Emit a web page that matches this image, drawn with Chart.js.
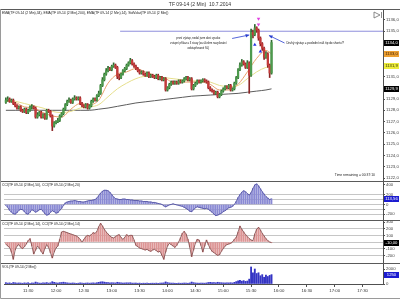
<!DOCTYPE html>
<html>
<head>
<meta charset="utf-8">
<script src="https://cdn.jsdelivr.net/npm/chart.js@4.4.1/dist/chart.umd.min.js"></script>
<style>
  html, body { margin: 0; padding: 0; background: #fff; }
  #wrap { width: 400px; height: 300px; }
</style>
</head>
<body>
<div id="wrap"><canvas id="tfChart" width="400" height="300"></canvas></div>
<script>
// ===== DATA =====
const FONT = "'Liberation Sans', Arial, sans-serif";

// time axis (2 minute bars)
const firstBar = '11:06';
const barMinutes = 2;
const axisStart = '11:04';
const axisEnd = '17:52';
const timeTicks = ['11:30', '12:00', '12:30', '13:00', '13:30', '14:00', '14:30',
  '15:00', '15:30', '16:00', '16:30', '17:00', '17:30'];

// price pane
const priceTicks = [1122, 1123, 1124, 1125, 1126, 1127, 1128, 1129, 1130, 1131, 1132, 1133, 1134, 1135, 1136];
const priceMin = 1121.74;
const priceMax = 1136.97;

const opens = [
  1128.7, 1128.9, 1129.0, 1128.8, 1128.9, 1128.6, 1128.4, 1128.2, 1128.3, 1128.0,
  1127.9, 1128.1, 1127.8, 1128.0, 1128.3, 1128.3, 1128.2, 1127.4, 1127.6, 1127.8,
  1127.4, 1127.6, 1127.3, 1128.0, 1127.9, 1127.5, 1126.6, 1126.9, 1127.0, 1127.1,
  1127.5, 1127.7, 1128.1, 1128.5, 1128.8, 1128.9, 1128.7, 1129.0, 1129.1, 1129.0,
  1129.1, 1128.6, 1128.4, 1128.3, 1128.5, 1128.2, 1128.4, 1128.8, 1129.0, 1128.9,
  1129.3, 1129.5, 1130.2, 1130.7, 1131.2, 1131.5, 1131.7, 1131.6, 1131.9, 1132.0,
  1131.8, 1131.0, 1130.9, 1131.2, 1131.5, 1131.7, 1132.0, 1132.2, 1132.4, 1132.1,
  1131.9, 1131.7, 1131.5, 1131.3, 1131.4, 1131.2, 1131.1, 1131.3, 1131.0, 1131.1,
  1131.0, 1130.9, 1131.1, 1130.8, 1130.9, 1130.7, 1130.8, 1129.8, 1130.0, 1130.3,
  1130.5, 1130.4, 1130.5, 1130.4, 1130.6, 1130.5, 1130.6, 1130.8, 1130.9, 1130.7,
  1130.8, 1129.9, 1130.2, 1130.4, 1130.6, 1130.5, 1130.6, 1130.7, 1130.6, 1130.5,
  1130.0, 1129.8, 1129.7, 1129.5, 1129.6, 1129.2, 1129.4, 1129.7, 1129.9, 1130.1,
  1130.0, 1130.2, 1129.8, 1129.9, 1130.4, 1130.9, 1131.6, 1132.0, 1132.3, 1132.1,
  1131.8, 1132.2, 1131.1, 1134.9, 1134.7, 1135.3, 1135.1, 1134.4, 1133.9, 1133.5,
  1132.7, 1133.0, 1132.0, 1131.3
];
const highs = [
  1129.1, 1129.2, 1129.1, 1129.0, 1129.0, 1128.7, 1128.5, 1128.4, 1128.4, 1128.1,
  1128.2, 1128.2, 1128.1, 1128.4, 1128.5, 1128.4, 1128.3, 1127.8, 1127.9, 1127.9,
  1127.7, 1127.7, 1128.1, 1128.1, 1128.0, 1127.6, 1127.0, 1127.1, 1127.3, 1127.6,
  1127.8, 1128.2, 1128.6, 1128.9, 1129.1, 1129.0, 1129.1, 1129.3, 1129.2, 1129.2,
  1129.2, 1128.7, 1128.5, 1128.6, 1128.6, 1128.5, 1128.9, 1129.1, 1129.1, 1129.4,
  1129.7, 1130.3, 1130.9, 1131.3, 1131.7, 1131.9, 1131.8, 1132.0, 1132.2, 1132.1,
  1131.9, 1131.2, 1131.3, 1131.6, 1131.8, 1132.1, 1132.3, 1132.6, 1132.5, 1132.2,
  1132.0, 1131.8, 1131.6, 1131.5, 1131.5, 1131.3, 1131.4, 1131.4, 1131.2, 1131.2,
  1131.1, 1131.2, 1131.2, 1131.0, 1131.0, 1130.9, 1130.9, 1130.1, 1130.4, 1130.6,
  1130.6, 1130.6, 1130.6, 1130.7, 1130.7, 1130.7, 1130.9, 1131.0, 1131.0, 1130.9,
  1130.9, 1130.3, 1130.5, 1130.7, 1130.7, 1130.7, 1130.8, 1130.8, 1130.7, 1130.6,
  1130.1, 1129.9, 1129.8, 1129.7, 1129.7, 1129.5, 1129.8, 1130.0, 1130.2, 1130.2,
  1130.3, 1130.3, 1130.0, 1130.5, 1131.0, 1131.7, 1132.2, 1132.5, 1132.4, 1132.2,
  1132.4, 1132.3, 1135.2, 1135.1, 1135.6, 1135.4, 1135.2, 1134.5, 1134.0, 1133.6,
  1133.2, 1133.1, 1132.1, 1134.2
];
const lows = [
  1128.6, 1128.8, 1128.7, 1128.7, 1128.5, 1128.3, 1128.1, 1128.1, 1127.9, 1127.8,
  1127.8, 1127.7, 1127.7, 1127.9, 1128.1, 1128.1, 1127.3, 1127.3, 1127.5, 1127.3,
  1127.3, 1127.2, 1127.2, 1127.8, 1127.4, 1126.2, 1126.5, 1126.8, 1126.9, 1127.0,
  1127.4, 1127.6, 1128.0, 1128.4, 1128.7, 1128.6, 1128.6, 1128.9, 1128.9, 1128.9,
  1128.5, 1128.3, 1128.2, 1128.2, 1128.1, 1128.1, 1128.3, 1128.7, 1128.8, 1128.8,
  1129.2, 1129.4, 1130.1, 1130.6, 1131.1, 1131.4, 1131.5, 1131.5, 1131.8, 1131.7,
  1130.8, 1130.7, 1130.8, 1131.1, 1131.4, 1131.6, 1131.9, 1132.1, 1132.0, 1131.8,
  1131.6, 1131.4, 1131.2, 1131.2, 1131.1, 1131.0, 1131.0, 1130.9, 1130.9, 1130.9,
  1130.8, 1130.8, 1130.7, 1130.7, 1130.6, 1130.6, 1129.7, 1129.7, 1129.9, 1130.2,
  1130.3, 1130.3, 1130.3, 1130.3, 1130.4, 1130.4, 1130.5, 1130.7, 1130.6, 1130.6,
  1129.8, 1129.8, 1130.1, 1130.3, 1130.4, 1130.4, 1130.5, 1130.5, 1130.4, 1129.9,
  1129.7, 1129.6, 1129.4, 1129.4, 1129.1, 1129.1, 1129.3, 1129.6, 1129.8, 1129.9,
  1129.9, 1129.7, 1129.7, 1129.8, 1130.3, 1130.8, 1131.5, 1131.9, 1132.0, 1131.7,
  1131.7, 1129.5, 1131.0, 1134.4, 1134.6, 1134.9, 1134.2, 1133.7, 1133.3, 1132.5,
  1132.6, 1131.8, 1130.9, 1131.2
];
const closes = [
  1128.9, 1129.0, 1128.8, 1128.9, 1128.6, 1128.4, 1128.2, 1128.3, 1128.0, 1127.9,
  1128.1, 1127.8, 1128.0, 1128.3, 1128.3, 1128.2, 1127.4, 1127.6, 1127.8, 1127.4,
  1127.6, 1127.3, 1128.0, 1127.9, 1127.5, 1126.6, 1126.9, 1127.0, 1127.1, 1127.5,
  1127.7, 1128.1, 1128.5, 1128.8, 1128.9, 1128.7, 1129.0, 1129.1, 1129.0, 1129.1,
  1128.6, 1128.4, 1128.3, 1128.5, 1128.2, 1128.4, 1128.8, 1129.0, 1128.9, 1129.3,
  1129.5, 1130.2, 1130.7, 1131.2, 1131.5, 1131.7, 1131.6, 1131.9, 1132.0, 1131.8,
  1131.0, 1130.9, 1131.2, 1131.5, 1131.7, 1132.0, 1132.2, 1132.4, 1132.1, 1131.9,
  1131.7, 1131.5, 1131.3, 1131.4, 1131.2, 1131.1, 1131.3, 1131.0, 1131.1, 1131.0,
  1130.9, 1131.1, 1130.8, 1130.9, 1130.7, 1130.8, 1129.8, 1130.0, 1130.3, 1130.5,
  1130.4, 1130.5, 1130.4, 1130.6, 1130.5, 1130.6, 1130.8, 1130.9, 1130.7, 1130.8,
  1129.9, 1130.2, 1130.4, 1130.6, 1130.5, 1130.6, 1130.7, 1130.6, 1130.5, 1130.0,
  1129.8, 1129.7, 1129.5, 1129.6, 1129.2, 1129.4, 1129.7, 1129.9, 1130.1, 1130.0,
  1130.2, 1129.8, 1129.9, 1130.4, 1130.9, 1131.6, 1132.0, 1132.3, 1132.1, 1131.8,
  1132.2, 1131.1, 1134.9, 1134.7, 1135.3, 1135.1, 1134.4, 1133.9, 1133.5, 1132.7,
  1133.0, 1132.0, 1131.3, 1134.0
];

// moving averages, read every 5th bar
const emaBars = [0, 5, 10, 15, 20, 25, 30, 35, 40, 45, 50, 55, 60, 65, 70, 75, 80, 85, 90, 95,
  100, 105, 110, 115, 120, 125, 130, 135, 140, 143];
const ema14 = [1128.8, 1128.7, 1128.3, 1128.2, 1127.8, 1127.5, 1127.4, 1128.1, 1128.6, 1128.5,
  1128.9, 1130.4, 1131.2, 1131.4, 1131.7, 1131.4, 1131.1, 1130.9, 1130.5, 1130.5,
  1130.5, 1130.5, 1130.3, 1129.8, 1129.8, 1130.3, 1131.4, 1132.6, 1133.3, 1133.0];
const ema34 = [1128.9, 1128.8, 1128.6, 1128.4, 1128.2, 1127.9, 1127.8, 1127.9, 1128.2, 1128.3,
  1128.5, 1129.2, 1129.9, 1130.4, 1130.8, 1131.0, 1131.0, 1130.9, 1130.8, 1130.7,
  1130.6, 1130.6, 1130.5, 1130.2, 1130.1, 1130.2, 1130.8, 1131.4, 1131.8, 1131.9];
const ema200 = [1128.0, 1128.0, 1128.0, 1128.0, 1128.0, 1128.0, 1128.0, 1128.0, 1128.0, 1128.0,
  1128.1, 1128.2, 1128.35, 1128.5, 1128.65, 1128.75, 1128.85, 1128.95, 1129.05, 1129.15,
  1129.25, 1129.3, 1129.35, 1129.4, 1129.45, 1129.5, 1129.6, 1129.7, 1129.8, 1129.9];

// drawn level + trade marks
const levelPrice = 1135.0;
const levelFromBar = 61.5;
const buyMarks = [{ bar: 134, price: 1133.8 }, { bar: 137, price: 1133.2 }];
const sellMarks = [{ bar: 136, price: 1136.1 }, { bar: 136, price: 1135.6 }];

// CCI panes
const cciSlowTicks = [-200, -100, 0, 100, 200, 400];
const cciSlow = [
  -20, -60, -120, -160, -190, -200, -170, -120, -100, -110,
  -150, -190, -200, -160, -110, -130, -160, -140, -110, -100,
  -140, -190, -220, -210, -160, -130, -150, -180, -170, -120,
  -80, -20, 30, 50, 60, 70, 70, 80, 70, 60,
  60, 50, 50, 60, 70, 80, 80, 90, 100, 130,
  180, 230, 270, 290, 290, 280, 250, 200, 150, 120,
  110, 100, 100, 110, 110, 100, 100, 90, 90, 80,
  80, 80, 70, 70, 60, 60, 60, 50, 50, 40,
  40, 30, 20, 10, 0, -30, -50, -30, -10, 0,
  10, 0, -10, -20, -30, -40, -60, -80, -110, -140,
  -150, -110, -70, -50, -60, -70, -80, -90, -80, -100,
  -130, -160, -200, -230, -220, -200, -180, -150, -130, -100,
  -70, -60, -40, 0, 60, 140, 200, 250, 280, 260,
  220, 190, 240, 330, 400, 420, 380, 320, 260, 210,
  160, 130, 100, 113.56
];
const cciFastTicks = [-200, -100, 0, 100, 200, 300];
const cciFast = [
  -30, -60, -80, -150, -260, -120, -60, -40, -80, -100,
  -70, -30, 20, 50, -60, -180, -120, -60, -90, -140,
  -180, -100, -40, -80, -160, -240, -150, -90, -60, 40,
  150, 160, 150, 140, 130, 120, 110, 100, 90, 70,
  40, 0, 40, 80, 100, 90, 110, 140, 130, 160,
  230, 280, 240, 190, 150, 120, 90, 70, 60, 80,
  100, 110, 70, 40, 70, 110, 90, 100, 100, 30,
  -50, -70, -90, -100, -110, -120, -110, -130, -140, -120,
  -110, -130, -150, -140, -200, -260, -150, -60, -20, -40,
  -60, -80, -50, 0, 60, 130, 160, 120, 40, -80,
  -220, -120, -20, 40, 30, -50, -150, -60, 30, -40,
  -100, -140, -160, -180, -200, -190, -140, -100, -60, -40,
  -30, -20, 0, 40, 70, 150, 240, 190, 150, 110,
  80, 50, 30, 20, 120, 190, 220, 180, 130, 90,
  50, 20, 0, -10
];

// volume pane
const volTicks = [0, 2000];
const volumes = [
  180, 120, 150, 90, 200, 160, 110, 140, 130, 100,
  150, 120, 170, 90, 140, 130, 260, 180, 120, 110,
  150, 140, 190, 120, 160, 310, 220, 150, 130, 180,
  200, 240, 190, 150, 120, 110, 140, 120, 90, 110,
  150, 130, 100, 120, 140, 110, 130, 150, 120, 170,
  220, 280, 300, 250, 200, 180, 150, 170, 160, 140,
  230, 180, 150, 130, 140, 160, 150, 170, 120, 110,
  130, 100, 120, 90, 110, 100, 130, 90, 100, 110,
  100, 120, 90, 110, 130, 150, 280, 190, 140, 120,
  110, 100, 90, 120, 100, 110, 130, 120, 100, 140,
  260, 180, 140, 120, 110, 130, 120, 110, 140, 200,
  220, 180, 200, 160, 230, 190, 170, 150, 140, 160,
  150, 170, 140, 220, 320, 420, 500, 380, 450, 350,
  400, 650, 2270, 1500, 2000, 1400, 1500, 1100, 1250, 900,
  1200, 1000, 1150, 1250
];

// texts
const chartTitle = 'TF 09-14 (2 Min)  10.7.2014';
const paneLegends = {
  y: 'EMA(TF 09-14 (2 Min),34), EMA(TF 09-14 (2 Min),200), EMA(TF 09-14 (2 Min),14), StdVolat(TF 09-14 (2 Min))',
  yc1: 'CCI(TF 09-14 (2 Min),50), CCI(TF 09-14 (2 Min),20)',
  yc2: 'CCI(TF 09-14 (2 Min),14), CCI(TF 09-14 (2 Min),14)',
  yv: 'VOL(TF 09-14 (2 Min))'
};
const noteLines = ['první výstup, nedal jsem dost vysoko',
  'vstupní příkaz a 3 stavy (za účelem navyšování',
  'odstupňované SL)'];
const noteAnchor = { bar: 103.6, price: 1134.4 };
const note2 = 'Druhý výstup = poslední náš tip do shortu?!';
const note2Anchor = { bar: 151, price: 1133.9 };
const arrows = [
  { fromBar: 121.8, fromPrice: 1134.36, toBar: 131, toPrice: 1134.67 },
  { fromBar: 150, fromPrice: 1133.96, toBar: 141.6, toPrice: 1134.63 }
];
const timeRemaining = 'Time remaining = 00:37:10';

// ===== HELPERS =====
function toMinutes(hhmm) {
  const parts = hhmm.split(':').map(Number);
  return parts[0] * 60 + parts[1];
}
function fmtTime(v) {
  const h = Math.floor(v / 60), m = Math.round(v % 60);
  return h + ':' + String(m).padStart(2, '0');
}
function barTime(i) { return toMinutes(firstBar) + i * barMinutes; }
function fixedTicks(values) {
  return function(scale) { scale.ticks = values.map(v => ({ value: v })); };
}
function fixedWidth(scale) { scale.width = 17; }
function comma(v, d) { return v.toFixed(d).replace('.', ','); }

const barTimes = closes.map((c, i) => barTime(i));
const upColor = '#4d9a4d', downColor = '#c43a3a';
const bodyColors = closes.map((c, i) => c >= opens[i] ? upColor : downColor);
const wickColors = closes.map((c, i) => c >= opens[i] ? '#2f6a2f' : '#8c2424');
const tickFont = { family: FONT, size: 4.3 };

// ===== OVERLAY (texts, frames, value tags) =====
const overlayPlugin = {
  id: 'overlay',
  afterDraw(chart) {
    const ctx = chart.ctx;
    const s = chart.scales;
    const area = chart.chartArea;
    const px = b => s.x.getPixelForValue(barTime(b));
    ctx.save();

    // frame + pane separators
    ctx.strokeStyle = '#5a5a5a';
    ctx.lineWidth = 1;
    [s.y.top, s.yc1.top, s.yc2.top, s.yv.top].forEach(py => {
      const yy = Math.round(py) + 0.5;
      ctx.beginPath(); ctx.moveTo(0, yy); ctx.lineTo(400, yy); ctx.stroke();
    });
    ctx.strokeStyle = '#9a9a9a';
    ctx.beginPath(); ctx.moveTo(0.5, Math.round(s.y.top)); ctx.lineTo(0.5, 298.5); ctx.lineTo(400, 298.5); ctx.stroke();

    // title
    ctx.fillStyle = '#303030';
    ctx.font = '5px ' + FONT;
    ctx.textAlign = 'center';
    ctx.textBaseline = 'middle';
    ctx.fillText(chartTitle, 200, 5);

    // pane legends
    ctx.textAlign = 'left';
    ctx.font = '3.4px ' + FONT;
    ctx.fillStyle = '#202020';
    Object.keys(paneLegends).forEach(id => {
      ctx.fillText(paneLegends[id], 2, s[id].top + 4);
    });

    // annotations
    ctx.fillStyle = '#101010';
    ctx.textAlign = 'center';
    ctx.font = '2.7px ' + FONT;
    const ny = s.y.getPixelForValue(noteAnchor.price);
    noteLines.forEach((t, k) => ctx.fillText(t, px(noteAnchor.bar), ny + k * 5));
    ctx.textAlign = 'left';
    ctx.font = '3px ' + FONT;
    ctx.fillText(note2, px(note2Anchor.bar), s.y.getPixelForValue(note2Anchor.price));

    ctx.strokeStyle = '#2a3fd0';
    ctx.fillStyle = '#2a3fd0';
    arrows.forEach(a => {
      const x1 = px(a.fromBar), y1 = s.y.getPixelForValue(a.fromPrice);
      const x2 = px(a.toBar), y2 = s.y.getPixelForValue(a.toPrice);
      const ang = Math.atan2(y2 - y1, x2 - x1);
      ctx.lineWidth = 0.8;
      ctx.beginPath(); ctx.moveTo(x1, y1); ctx.lineTo(x2, y2); ctx.stroke();
      ctx.beginPath();
      ctx.moveTo(x2, y2);
      ctx.lineTo(x2 - 4 * Math.cos(ang - 0.45), y2 - 4 * Math.sin(ang - 0.45));
      ctx.lineTo(x2 - 4 * Math.cos(ang + 0.45), y2 - 4 * Math.sin(ang + 0.45));
      ctx.closePath(); ctx.fill();
    });

    // time remaining
    ctx.fillStyle = '#202020';
    ctx.textAlign = 'right';
    ctx.font = '3.4px ' + FONT;
    ctx.fillText(timeRemaining, area.right - 8, s.y.bottom - 6);

    // chart trader icon
    ctx.strokeStyle = '#707070';
    ctx.lineWidth = 0.8;
    const ix = area.right - 9, iy = s.y.top + 3;
    ctx.beginPath(); ctx.moveTo(ix, iy); ctx.lineTo(ix + 6, iy + 3); ctx.lineTo(ix, iy + 6); ctx.closePath(); ctx.stroke();
    ctx.beginPath(); ctx.moveTo(ix + 7.5, iy); ctx.lineTo(ix + 7.5, iy + 6); ctx.stroke();

    // value tags on the right axis
    const tags = [
      { id: 'y', text: comma(ema200[ema200.length - 1], 1), v: ema200[ema200.length - 1], bg: '#000', fg: '#fff' },
      { id: 'y', text: comma(ema34[ema34.length - 1], 1), v: ema34[ema34.length - 1], bg: '#ecec3c', fg: '#303000' },
      { id: 'y', text: comma(ema14[ema14.length - 1], 1), v: ema14[ema14.length - 1], bg: '#eda032', fg: '#402000' },
      { id: 'y', text: comma(closes[closes.length - 1], 1), v: closes[closes.length - 1], bg: '#000', fg: '#fff' },
      { id: 'yc1', text: comma(cciSlow[cciSlow.length - 1], 2), v: cciSlow[cciSlow.length - 1], bg: '#1c1cd0', fg: '#fff' },
      { id: 'yc2', text: comma(cciFast[cciFast.length - 1], 2), v: cciFast[cciFast.length - 1], bg: '#000', fg: '#fff' },
      { id: 'yv', text: String(volumes[volumes.length - 1]), v: volumes[volumes.length - 1], bg: '#1c1cd0', fg: '#fff' }
    ];
    ctx.textAlign = 'center';
    ctx.font = '4.2px ' + FONT;
    tags.forEach(t => {
      const ty = s[t.id].getPixelForValue(t.v);
      ctx.fillStyle = t.bg;
      ctx.fillRect(area.right + 1, Math.round(ty) - 3, 15, 6);
      ctx.fillStyle = t.fg;
      ctx.fillText(t.text, area.right + 8.5, Math.round(ty) + 0.3);
    });
    ctx.restore();
  }
};

// ===== CHART =====
const lineCommon = { type: 'line', pointRadius: 0, borderWidth: 1, yAxisID: 'y', cubicInterpolationMode: 'monotone' };
const emaPoints = arr => emaBars.map((b, k) => ({ x: barTime(b), y: arr[k] }));

new Chart(document.getElementById('tfChart').getContext('2d'), {
  type: 'bar',
  data: {
    datasets: [
      Object.assign({}, lineCommon, { label: 'level', order: 12, borderColor: '#8f8fdc',
        data: [{ x: barTime(levelFromBar), y: levelPrice }, { x: toMinutes(axisEnd), y: levelPrice }] }),
      Object.assign({}, lineCommon, { label: 'EMA200', order: 11, borderColor: '#5c5c5c', data: emaPoints(ema200) }),
      Object.assign({}, lineCommon, { label: 'EMA34', order: 10, borderColor: '#e6df8c', data: emaPoints(ema34) }),
      Object.assign({}, lineCommon, { label: 'EMA14', order: 9, borderColor: '#e9a26c', data: emaPoints(ema14) }),
      {
        label: 'wicks', order: 4, yAxisID: 'y', grouped: false, barThickness: 1,
        backgroundColor: wickColors,
        data: barTimes.map((t, i) => ({ x: t, y: [lows[i], highs[i]] }))
      },
      {
        label: 'bodies', order: 3, yAxisID: 'y', grouped: false, barThickness: 1.6,
        backgroundColor: bodyColors,
        data: barTimes.map((t, i) => ({ x: t, y: [opens[i], closes[i]] }))
      },
      {
        type: 'line', label: 'buys', order: 1, yAxisID: 'y', showLine: false,
        pointStyle: 'triangle', pointRadius: 2, borderWidth: 0, backgroundColor: '#2030e0',
        data: buyMarks.map(m => ({ x: barTime(m.bar), y: m.price }))
      },
      {
        type: 'line', label: 'sells', order: 1, yAxisID: 'y', showLine: false,
        pointStyle: 'triangle', rotation: 180, pointRadius: 2, borderWidth: 0, backgroundColor: '#e040e0',
        data: sellMarks.map(m => ({ x: barTime(m.bar), y: m.price }))
      },
      {
        label: 'CCI slow', order: 6, yAxisID: 'yc1', grouped: false, barThickness: 1,
        backgroundColor: '#8a8ad4',
        data: barTimes.map((t, i) => ({ x: t, y: cciSlow[i] }))
      },
      Object.assign({}, lineCommon, { label: 'CCI slow line', order: 5, yAxisID: 'yc1', borderColor: '#48489a',
        borderWidth: 0.8, cubicInterpolationMode: 'default', tension: 0,
        data: barTimes.map((t, i) => ({ x: t, y: cciSlow[i] })) }),
      {
        label: 'CCI fast', order: 6, yAxisID: 'yc2', grouped: false, barThickness: 1,
        backgroundColor: '#dc9494',
        data: barTimes.map((t, i) => ({ x: t, y: cciFast[i] }))
      },
      Object.assign({}, lineCommon, { label: 'CCI fast line', order: 5, yAxisID: 'yc2', borderColor: '#7a4848',
        borderWidth: 0.8, cubicInterpolationMode: 'default', tension: 0,
        data: barTimes.map((t, i) => ({ x: t, y: cciFast[i] })) }),
      {
        label: 'Volume', order: 6, yAxisID: 'yv', grouped: false, barThickness: 1.2,
        backgroundColor: '#3434c4',
        data: barTimes.map((t, i) => ({ x: t, y: volumes[i] }))
      }
    ]
  },
  options: {
    responsive: false,
    animation: false,
    layout: { padding: { top: 9, left: 1, right: 0, bottom: 0 } },
    plugins: { legend: { display: false }, tooltip: { enabled: false } },
    scales: {
      x: {
        type: 'linear', min: toMinutes(axisStart), max: toMinutes(axisEnd), offset: false,
        afterBuildTicks: fixedTicks(timeTicks.map(toMinutes)),
        afterFit: s => { s.height = 16; },
        ticks: { callback: v => fmtTime(v), font: tickFont, color: '#303030', padding: 1, maxRotation: 0, autoSkip: false },
        grid: { drawOnChartArea: false, offset: false, tickLength: 3, color: '#505050' },
        border: { color: '#505050' }
      },
      y: {
        position: 'right', stack: 'panes', stackWeight: 172, min: priceMin, max: priceMax,
        afterBuildTicks: fixedTicks(priceTicks), afterFit: fixedWidth,
        ticks: { callback: v => comma(v, 1), font: tickFont, color: '#404040', padding: 1, autoSkip: false },
        grid: { drawOnChartArea: false, tickLength: 2, color: '#505050' },
        border: { color: '#505050' }
      },
      yc1: {
        position: 'right', stack: 'panes', stackWeight: 39, min: -320, max: 480,
        afterBuildTicks: fixedTicks(cciSlowTicks), afterFit: fixedWidth,
        ticks: { callback: v => (v === 100 || v === -100) ? '' : String(v), font: tickFont, color: '#404040', padding: 1, autoSkip: false },
        grid: { color: c => c.tick && c.tick.value === 400 ? 'rgba(0,0,0,0)' : '#c6c6c6', tickColor: '#505050', tickLength: 2 },
        border: { color: '#505050' }
      },
      yc2: {
        position: 'right', stack: 'panes', stackWeight: 43, min: -315, max: 330,
        afterBuildTicks: fixedTicks(cciFastTicks), afterFit: fixedWidth,
        ticks: { callback: v => String(v), font: tickFont, color: '#404040', padding: 1, autoSkip: false },
        grid: { color: c => c.tick && c.tick.value === 300 ? 'rgba(0,0,0,0)' : '#c6c6c6', tickColor: '#505050', tickLength: 2 },
        border: { color: '#505050' }
      },
      yv: {
        position: 'right', stack: 'panes', stackWeight: 21, min: 0, max: 2800,
        afterBuildTicks: fixedTicks(volTicks), afterFit: fixedWidth,
        ticks: { callback: v => String(v), font: tickFont, color: '#404040', padding: 1, autoSkip: false },
        grid: { drawOnChartArea: false, tickLength: 2, color: '#505050' },
        border: { color: '#505050' }
      }
    }
  },
  plugins: [overlayPlugin]
});
</script>
</body>
</html>
